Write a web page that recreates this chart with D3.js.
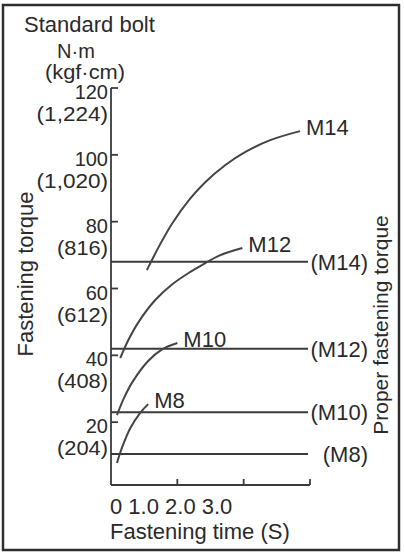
<!DOCTYPE html>
<html><head><meta charset="utf-8">
<script src="https://cdn.jsdelivr.net/npm/d3@7"></script>
<style>
html,body{margin:0;padding:0;background:#fff;}
svg text{font-family:"Liberation Sans",Arial,sans-serif;fill:#2a2a2a;}
</style></head>
<body><svg id="c" width="404" height="554"></svg>
<script>
// ---- data ----
const yTicks = [20, 40, 60, 80, 100, 120];
const yTickSub = ["(204)", "(408)", "(612)", "(816)", "(1,020)", "(1,224)"];
const xTicks = [0, 1, 2, 3];
const xTickText = "0 1.0 2.0 3.0";
const bolts = ["M8", "M10", "M12", "M14"];
const properTorque = [10.5, 23, 42, 68];
const curveM8  = [[0.09,7.8],[0.17,12.6],[0.29,18.2],[0.44,22.8],[0.56,25.4]];
const curveM10 = [[0.09,22.1],[0.20,27.4],[0.32,31.9],[0.56,38.3],[0.77,41.8],[1.00,43.7]];
const curveM12 = [[0.14,39.2],[0.26,44.5],[0.41,49.8],[0.66,56.4],[0.92,61.2],[1.19,64.9],[1.37,67.0],[1.64,69.9],[1.98,72.1]];
const curveM14 = [[0.54,65.5],[0.74,73.2],[0.92,79.4],[1.19,86.8],[1.42,91.8],[1.72,96.9],[2.02,100.8],[2.40,104.4],[2.85,107.1]];
const curves = [curveM8, curveM10, curveM12, curveM14];

const svg = d3.select("#c");
const FS = 22;
const TS = 20;
const col = "#3a3a3a";

// frame
svg.append("rect").attr("x",3).attr("y",5).attr("width",396).attr("height",545)
  .attr("fill","#fff").attr("stroke","#2e2e2e").attr("stroke-width",2.5);

const x = d3.scaleLinear().domain([0,3]).range([111,310]);
const y = d3.scaleLinear().domain([0,120]).range([489,88]);
const axisY = 485;

// y axis
svg.append("line").attr("x1",x(0)).attr("x2",x(0)).attr("y1",y(120)).attr("y2",axisY)
  .attr("stroke",col).attr("stroke-width",1.8);
svg.selectAll(".yt").data(yTicks).join("line")
  .attr("x1",x(0)).attr("x2",x(0)+7).attr("y1",d=>y(d)).attr("y2",d=>y(d))
  .attr("stroke",col).attr("stroke-width",1.8);
svg.selectAll(".yl").data(yTicks).join("text")
  .attr("x",108).attr("y",d=>y(d)+11).attr("text-anchor","end").attr("font-size",TS)
  .text(d=>d);
svg.selectAll(".yl2").data(yTickSub).join("text")
  .attr("x",108).attr("y",(d,i)=>y(yTicks[i])+33).attr("text-anchor","end").attr("font-size",TS)
  .attr("textLength",(d,i)=>d.length*10.2).attr("lengthAdjust","spacingAndGlyphs")
  .text(d=>d);

// x axis
svg.append("line").attr("x1",x(0)).attr("x2",x(3)).attr("y1",axisY).attr("y2",axisY)
  .attr("stroke",col).attr("stroke-width",1.8);
svg.selectAll(".xt").data(xTicks.slice(1)).join("line")
  .attr("x1",d=>x(d)).attr("x2",d=>x(d)).attr("y1",axisY).attr("y2",axisY-6)
  .attr("stroke",col).attr("stroke-width",1.8);
svg.append("text").attr("x",x(0)-1).attr("y",514).attr("font-size",FS).text(xTickText);
svg.append("text").attr("x",110).attr("y",539).attr("font-size",FS).text("Fastening time (S)");

// titles
svg.append("text").attr("x",24).attr("y",32).attr("font-size",FS).text("Standard bolt");
svg.append("text").attr("x",76).attr("y",58).attr("text-anchor","middle").attr("font-size",TS).text("N·m");
svg.append("text").attr("x",85).attr("y",79).attr("text-anchor","middle").attr("font-size",TS)
  .attr("textLength",80).attr("lengthAdjust","spacingAndGlyphs").text("(kgf·cm)");
svg.append("text").attr("transform","translate(33,274) rotate(-90)").attr("text-anchor","middle")
  .attr("font-size",FS).text("Fastening torque");
svg.append("text").attr("transform","translate(388,325) rotate(-90)").attr("text-anchor","middle")
  .attr("font-size",21).text("Proper fastening torque");

// proper torque lines
svg.selectAll(".pl").data(properTorque).join("line")
  .attr("x1",x(0)).attr("x2",308).attr("y1",d=>y(d)).attr("y2",d=>y(d))
  .attr("stroke",col).attr("stroke-width",2);
svg.selectAll(".plt").data(bolts).join("text")
  .attr("x",368).attr("y",(d,i)=>y(properTorque[i])+8).attr("text-anchor","end").attr("font-size",FS)
  .text(d=>"("+d+")");

// curves
const line = d3.line().x(d=>x(d[0])).y(d=>y(d[1])).curve(d3.curveCatmullRom.alpha(0.5));
svg.selectAll(".cv").data(curves).join("path")
  .attr("d",line).attr("fill","none").attr("stroke","#444").attr("stroke-width",2);
svg.selectAll(".cvl").data(curves).join("text")
  .attr("x",d=>x(d[d.length-1][0])+6).attr("y",d=>y(d[d.length-1][1])+4)
  .attr("font-size",FS).text((d,i)=>bolts[i]);
</script></body></html>
